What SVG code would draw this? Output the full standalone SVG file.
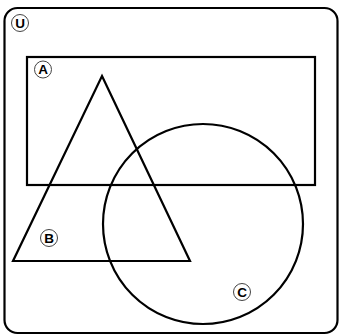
<svg xmlns="http://www.w3.org/2000/svg" width="339" height="335" viewBox="0 0 339 335">
<style>
.s{fill:none;stroke:#000;stroke-width:2.2}
.lc{fill:#fff;stroke:#444;stroke-width:1}
.lt{font-family:"Liberation Sans",Arial,sans-serif;font-weight:bold;font-size:13.5px;fill:#000;text-anchor:middle}
</style>
<rect width="339" height="335" fill="#fff"/>
<g id="U">
<rect class="s" x="4.5" y="8" width="333" height="325" rx="13"/>
<circle class="lc" cx="20" cy="23" r="8.5"/>
<text class="lt" x="20" y="27.8">U</text>
</g>
<g id="A">
<rect class="s" x="27" y="57" width="288" height="128"/>
<circle class="lc" cx="43" cy="69.5" r="8.5"/>
<text class="lt" x="43" y="74.3">A</text>
</g>
<g id="B">
<polygon class="s" points="102,76 190,261 13,261"/>
<circle class="lc" cx="49" cy="238" r="8.5"/>
<text class="lt" x="49" y="242.8">B</text>
</g>
<g id="C">
<circle class="s" cx="203" cy="224" r="100"/>
<circle class="lc" cx="242" cy="292" r="8.5"/>
<text class="lt" x="242" y="296.8">C</text>
</g>
<g id="connectors"/>
</svg>
